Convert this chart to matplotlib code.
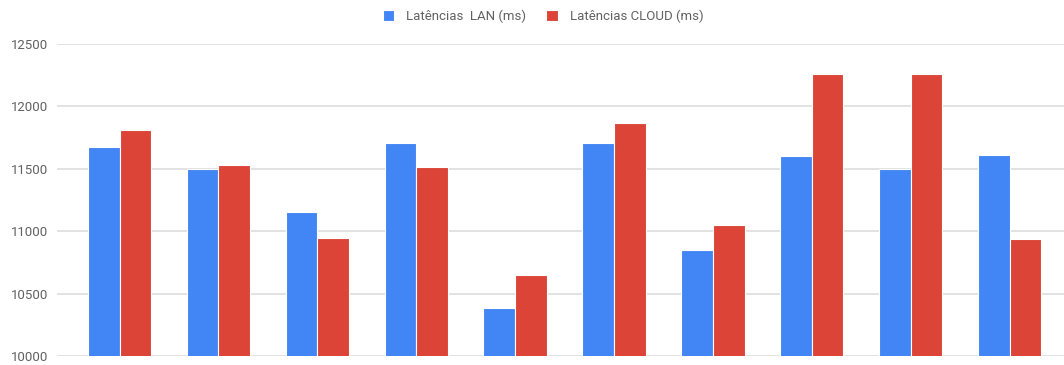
import matplotlib.pyplot as plt
import numpy as np

# dados
grupos = list(range(1, 11))
latencias_lan = [11676, 11496, 11152, 11706, 10388, 11706, 10850, 11603, 11500, 11610]
latencias_cloud = [11810, 11528, 10944, 11512, 10652, 11870, 11048, 12256, 12256, 10935]
rotulos = ['Latências  LAN (ms)', 'Latências CLOUD (ms)']

azul = '#4285F4'
vermelho = '#DB4437'
cinza_texto = '#616161'

plt.rcParams['font.family'] = ['Roboto', 'DejaVu Sans']

fig = plt.figure(figsize=(10.64, 3.65), dpi=100)
ax = fig.add_axes([57 / 1064, 9 / 365, 1 - 57 / 1064, 312 / 365])

x = np.arange(len(grupos))
largura = 0.32
ax.bar(x - largura / 2, latencias_lan, largura, color=azul, edgecolor='white',
       linewidth=0.8, label=rotulos[0], zorder=3)
ax.bar(x + largura / 2, latencias_cloud, largura, color=vermelho, edgecolor='white',
       linewidth=0.8, label=rotulos[1], zorder=3)

ax.set_ylim(10000, 12500)
ax.set_xlim(-0.632, 9.55)
ax.set_yticks(np.arange(10000, 12501, 500))
ax.set_xticks([])
ax.yaxis.grid(True, color='#dddddd', linewidth=1.2, zorder=0)
ax.tick_params(axis='y', length=0, pad=6, labelsize=9.5, labelcolor=cinza_texto)
for s in ax.spines.values():
    s.set_visible(False)

fig.legend(loc='center', bbox_to_anchor=(543 / 1064, 1 - 16 / 365), ncol=2,
           frameon=False, fontsize=9.5, handlelength=0.9, handleheight=0.9,
           columnspacing=1.5, handletextpad=0.9, labelcolor=cinza_texto)

fig.savefig('out.png', dpi=100)
